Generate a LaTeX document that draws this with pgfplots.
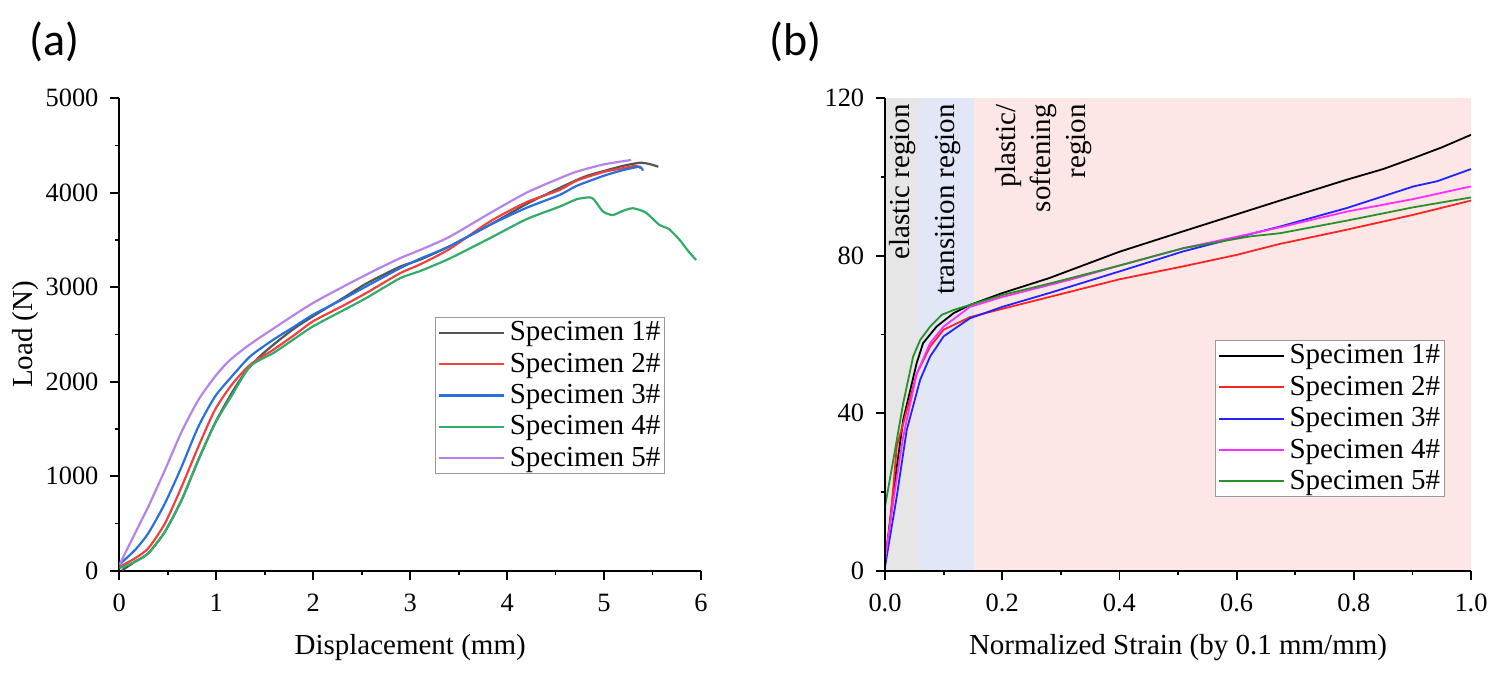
\documentclass[border=0pt]{standalone}
\usepackage{fontspec}
\setmainfont{Liberation Serif}
\newfontfamily\calib{Carlito}
\usepackage{pgfplots}
\pgfplotsset{compat=1.18}
\definecolor{aS1}{RGB}{85,85,85}
\definecolor{aS2}{RGB}{240,65,65}
\definecolor{aS3}{RGB}{40,112,222}
\definecolor{aS4}{RGB}{50,172,105}
\definecolor{aS5}{RGB}{182,132,232}
\definecolor{bS2}{RGB}{255,35,35}
\definecolor{bS3}{RGB}{35,35,255}
\definecolor{bS4}{RGB}{255,45,255}
\definecolor{bS5}{RGB}{40,145,40}
\definecolor{regGray}{RGB}{230,230,230}
\definecolor{regBlue}{RGB}{225,231,246}
\definecolor{regPink}{RGB}{253,230,230}
\begin{document}
\begin{tikzpicture}[x=1pt,y=1pt]
\useasboundingbox (0,0) rectangle (753.5,339);
\node[font=\calib\fontsize{23}{28}\selectfont] at (27.25,318.25) {(a)};
\node[font=\calib\fontsize{23}{28}\selectfont] at (397.75,318.25) {(b)};
\pgfplotsset{
  common/.style={
    scale only axis,
    axis x line*=bottom, axis y line*=left,
    axis line style={-, line width=1pt, black},
    tick align=outside,
    major tick length=4.5pt, minor tick length=2pt,
    every tick/.style={black, line width=0.9pt},
    minor x tick num=1, minor y tick num=1,
    /pgf/number format/assume math mode=true,
    /pgf/number format/1000 sep={},
    every tick label/.append style={font=\fontsize{13.2}{15}\selectfont},
    every y tick label/.append style={xshift=-2.4pt},
    every x tick label/.append style={yshift=-3.5pt},
    label style={font=\fontsize{14.5}{17}\selectfont},
    legend cell align=left,
    legend style={font=\fontsize{14.5}{17}\selectfont, draw=black!40, line width=0.6pt, fill=white,
      inner xsep=1pt, inner ysep=1pt, row sep=2.6pt, column sep=1.5pt,
      nodes={inner sep=1pt}},
    clip=true,
  }
}
\begin{axis}[common, at={(59.65pt,53.65pt)}, anchor=south west,
  width=290.85pt, height=236.25pt,
  xmin=0, xmax=6, ymin=0, ymax=5000,
  xtick={0,1,2,3,4,5,6}, ytick={0,1000,2000,3000,4000,5000},
  xlabel={Displacement (mm)}, ylabel={Load (N)},
  xlabel style={at={(axis description cs:0.5,-0.163)}, anchor=center},
  ylabel style={at={(axis description cs:-0.1616,0.5)}, anchor=center, rotate=0},
  legend style={at={(0.5427,0.537)}, anchor=north west},
  legend image code/.code={\draw[#1, line width=1.1pt] (0pt,0pt) -- (32.5pt,0pt);},
  every axis plot/.append style={line width=1.1pt, smooth, tension=0.4},
]
\addplot[aS1] coordinates {(0.03,5) (0.162,95) (0.299,184) (0.471,413) (0.643,748) (0.815,1171) (0.986,1560) (1.158,1877) (1.3,2100) (1.45,2268) (1.6,2400) (1.8,2560) (2.0,2693) (2.3,2880) (2.55,3040) (2.894,3217) (3.1,3290) (3.4,3430) (3.82,3658) (4.2,3880) (4.54,4050) (4.8,4170) (5.06,4247) (5.2,4285) (5.37,4317) (5.47,4303) (5.56,4275)};
\addlegendentry{Specimen 1\#}
\addplot[aS2] coordinates {(0,40) (0.162,131) (0.299,237) (0.471,501) (0.643,889) (0.815,1312) (0.986,1701) (1.158,1965) (1.35,2180) (1.59,2339) (1.8,2490) (2.0,2640) (2.3,2800) (2.55,2940) (2.894,3147) (3.1,3240) (3.4,3400) (3.82,3693) (4.2,3900) (4.54,4028) (4.715,4127) (5.0,4220) (5.2,4260) (5.33,4286) (5.38,4258)};
\addlegendentry{Specimen 2\#}
\addplot[aS3] coordinates {(0,65) (0.162,219) (0.299,396) (0.471,713) (0.643,1101) (0.815,1524) (0.986,1841) (1.158,2053) (1.35,2268) (1.59,2445) (1.8,2580) (2.0,2710) (2.3,2870) (2.55,3010) (2.894,3200) (3.1,3300) (3.4,3430) (3.82,3658) (4.2,3840) (4.54,3975) (4.715,4071) (5.0,4180) (5.2,4240) (5.37,4275) (5.40,4233)};
\addlegendentry{Specimen 3\#}
\addplot[aS4] coordinates {(0,25) (0.162,95) (0.299,184) (0.471,413) (0.643,748) (0.815,1171) (0.986,1555) (1.158,1850) (1.35,2163) (1.59,2304) (1.8,2450) (2.0,2587) (2.3,2750) (2.55,2887) (2.894,3094) (3.1,3170) (3.4,3300) (3.82,3517) (4.2,3720) (4.54,3852) (4.715,3930) (4.85,3951) (4.90,3923) (4.99,3800) (5.09,3764) (5.2,3810) (5.30,3835) (5.43,3790) (5.57,3660) (5.67,3615) (5.78,3500) (5.87,3380) (5.95,3288)};
\addlegendentry{Specimen 4\#}
\addplot[aS5] coordinates {(0,60) (0.162,396) (0.299,677) (0.471,1066) (0.643,1471) (0.815,1806) (0.986,2053) (1.124,2212) (1.3,2360) (1.52,2515) (2.0,2834) (2.55,3134) (2.894,3306) (3.07,3380) (3.4,3530) (3.82,3782) (4.2,4000) (4.54,4152) (4.715,4222) (5.0,4300) (5.28,4346)};
\addlegendentry{Specimen 5\#}
\end{axis}

\begin{axis}[common, at={(442.5pt,53.65pt)}, anchor=south west,
  width=293pt, height=236.25pt,
  xmin=0, xmax=1, ymin=0, ymax=120,
  xtick={0,0.2,0.4,0.6,0.8,1}, ytick={0,40,80,120},
  xticklabel style={/pgf/number format/.cd, fixed, fixed zerofill, precision=1},
  xlabel={Normalized Strain (by 0.1 mm/mm)},
  xlabel style={at={(axis description cs:0.5,-0.163)}, anchor=center},
  legend style={at={(0.563,0.488)}, anchor=north west},
  legend image code/.code={\draw[#1, line width=1pt] (0pt,0pt) -- (32.5pt,0pt);},
  axis on top,
  every axis plot/.append style={line width=0.9pt},
]
\addplot[fill=regGray, draw=none, forget plot] coordinates {(0,120) (0.058,120)} \closedcycle;
\addplot[fill=regBlue, draw=none, forget plot] coordinates {(0.058,120) (0.152,120)} \closedcycle;
\addplot[fill=regPink, draw=none, forget plot] coordinates {(0.152,120) (1,120)} \closedcycle;
\addplot[black] coordinates {(0,1.9) (0.014,19.6) (0.031,38.3) (0.054,52.7) (0.065,57.8) (0.088,62) (0.117,65.4) (0.145,67.5) (0.2,70.5) (0.28,74.3) (0.4,81) (0.509,86.2) (0.6,90.5) (0.674,94) (0.788,99.3) (0.85,102) (0.902,104.8) (0.95,107.5) (1.0,110.7)};
\addlegendentry{Specimen 1\#}
\addplot[bS2] coordinates {(0,1.5) (0.01,14) (0.02,31.5) (0.031,37.4) (0.054,50) (0.077,56.9) (0.1,61.2) (0.117,62.4) (0.145,64.4) (0.2,66.5) (0.28,69.5) (0.4,74) (0.509,77.3) (0.6,80.2) (0.674,83.0) (0.788,86.6) (0.902,90.4) (1.0,94)};
\addlegendentry{Specimen 2\#}
\addplot[bS3] coordinates {(0,1) (0.02,18.8) (0.037,35.7) (0.06,48.5) (0.077,54.4) (0.1,59.5) (0.128,62.4) (0.145,64.1) (0.2,67) (0.28,70.5) (0.4,76) (0.509,81.1) (0.6,84.6) (0.674,87.4) (0.788,92.1) (0.902,97.6) (0.942,98.9) (1.0,102)};
\addlegendentry{Specimen 3\#}
\addplot[bS4] coordinates {(0,2.7) (0.017,20.5) (0.031,34) (0.054,50) (0.077,57.8) (0.1,62) (0.145,67) (0.2,69.5) (0.316,73.9) (0.4,77.5) (0.509,81.9) (0.6,84.8) (0.674,87.2) (0.788,91.2) (0.902,94.4) (1.0,97.6)};
\addlegendentry{Specimen 4\#}
\addplot[bS5] coordinates {(0,16.3) (0.014,28) (0.031,42.5) (0.048,54.4) (0.06,58.6) (0.077,62) (0.097,65) (0.117,66.2) (0.145,67.5) (0.2,70) (0.28,72.9) (0.4,77.5) (0.509,81.9) (0.623,84.9) (0.674,85.7) (0.788,88.9) (0.902,92.3) (1.0,94.8)};
\addlegendentry{Specimen 5\#}
\node[rotate=90, anchor=east, inner sep=0pt, font=\fontsize{14.5}{17}\selectfont] at (axis cs:0.0307,118.6) {elastic region};
\node[rotate=90, anchor=east, inner sep=0pt, font=\fontsize{14.5}{17}\selectfont] at (axis cs:0.1075,118.6) {transition region};
\node[rotate=90, anchor=east, inner sep=0pt, align=right, font=\fontsize{14.5}{17.5}\selectfont] at (axis cs:0.271,118.6) {plastic/\\softening\\region};
\end{axis}
\end{tikzpicture}
\end{document}
